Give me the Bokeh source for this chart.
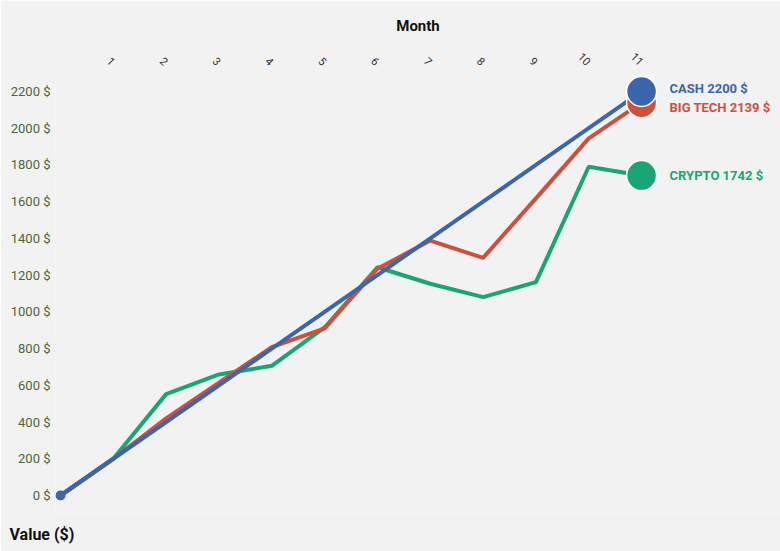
import math

from bokeh.core.properties import value
from bokeh.embed import file_html
from bokeh.models import ColumnDataSource, FixedTicker, Range1d, Title
from bokeh.plotting import figure
from bokeh.resources import INLINE

# data
months = [0, 1, 2, 3, 4, 5, 6, 7, 8, 9, 10, 11]
cash = [0, 200, 400, 600, 800, 1000, 1200, 1400, 1600, 1800, 2000, 2200]
big_tech = [0, 200, 420, 615, 808, 910, 1235, 1388, 1294, 1618, 1945, 2139]
crypto = [0, 200, 552, 659, 706, 915, 1243, 1153, 1080, 1162, 1790, 1742]

series_names = ["CASH", "BIG TECH", "CRYPTO"]
y_ticks = [0, 200, 400, 600, 800, 1000, 1200, 1400, 1600, 1800, 2000, 2200]

BLUE = "#3b65ac"
RED = "#cf4f3b"
GREEN = "#17a674"
BG = "#f2f2f2"
FONT = "Roboto"

p = figure(
    frame_width=725, frame_height=437,
    min_border_left=55, min_border_right=0,
    min_border_top=75, min_border_bottom=39,
    x_range=Range1d(-0.0947, 13.63), y_range=Range1d(-92.6, 2287),
    x_axis_location="above",
    output_backend="svg", toolbar_location=None,
    background_fill_color=BG, border_fill_color=BG,
    outline_line_color=None,
)
p.grid.visible = False

# x axis on top
xa = p.xaxis[0]
xa.ticker = FixedTicker(ticks=months[1:])
xa.axis_label = "Month"
xa.axis_label_text_font = FONT
xa.axis_label_text_font_style = "bold"
xa.axis_label_text_font_size = "15px"
xa.axis_label_text_color = "#111111"
xa.axis_label_standoff = 11
xa.major_label_orientation = -math.pi / 4
xa.major_label_text_font = FONT
xa.major_label_text_font_size = "11px"
xa.major_label_text_color = "#333333"
xa.major_label_standoff = 6
xa.axis_line_color = None
xa.major_tick_line_color = None
xa.minor_tick_line_color = None

# y axis with dollar labels
ya = p.yaxis[0]
ya.ticker = FixedTicker(ticks=y_ticks)
ya.major_label_overrides = {t: f"{t} $" for t in y_ticks}
ya.major_label_text_font = FONT
ya.major_label_text_font_size = "13px"
ya.major_label_text_color = "#4d663a"
ya.major_label_standoff = 5
ya.major_tick_out = 0
ya.major_tick_in = 0
ya.axis_line_color = None
ya.major_tick_line_color = None
ya.minor_tick_line_color = None

p.add_layout(Title(text="Value ($)", align="left", offset=-46, standoff=21,
                   text_font=FONT, text_font_style="bold",
                   text_font_size="16px", text_color="#111111"), "below")

# lines
p.line(months, crypto, line_color=GREEN, line_width=4)
p.line(months, big_tech, line_color=RED, line_width=4)
p.line(months, cash, line_color=BLUE, line_width=4)

# start dot
p.scatter([months[0]], [cash[0]], size=10, fill_color=BLUE, line_color=None)

# end dots and labels
last = [cash[-1], big_tech[-1], crypto[-1]]
colors = [BLUE, RED, GREEN]
src = ColumnDataSource(dict(
    x=[months[-1]] * 3,
    y=last,
    color=colors,
    label=[f"{n} {v} $" for n, v in zip(series_names, last)],
    dy=[-3, 5, 0],
))
order = [2, 1, 0]
end_src = ColumnDataSource(dict(
    x=[months[-1]] * 3,
    y=[last[i] for i in order],
    color=[colors[i] for i in order],
))
p.scatter("x", "y", source=end_src, size=30, fill_color="color",
          line_color="white", line_width=1.5)
p.text("x", "y", text="label", source=src, text_color="color",
       x_offset=28, y_offset="dy", text_baseline="middle",
       text_font=value(FONT), text_font_style="bold", text_font_size="13px")

open("out.html", "w").write(file_html(p, INLINE))
